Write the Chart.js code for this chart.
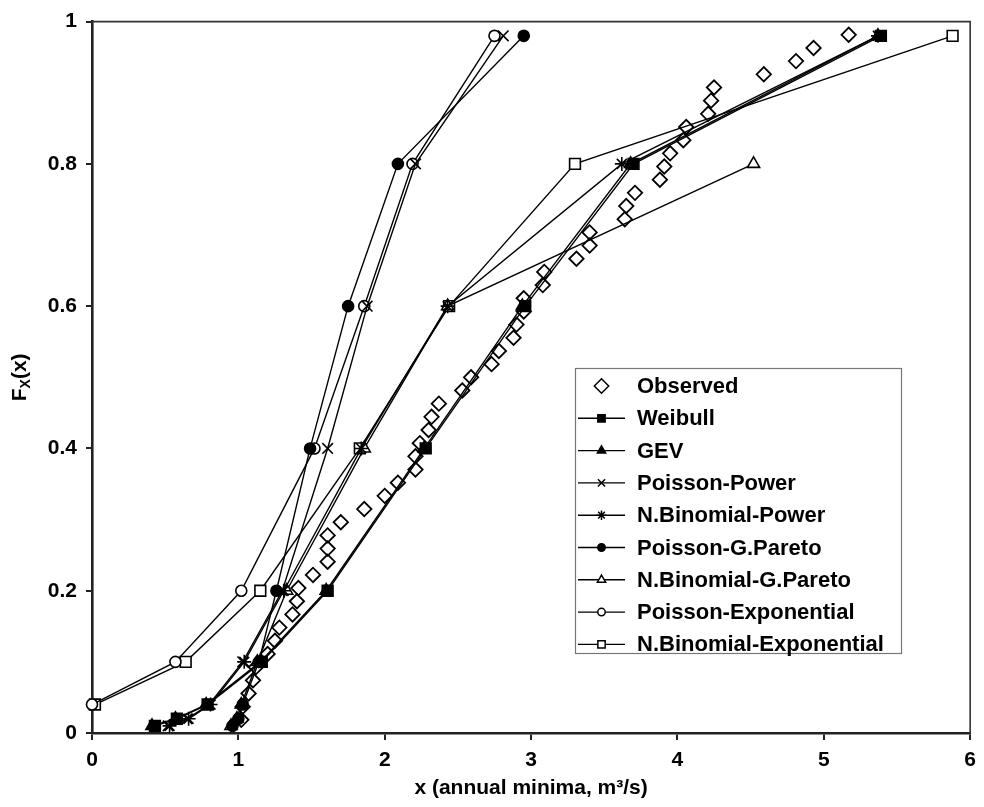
<!DOCTYPE html>
<html>
<head>
<meta charset="utf-8">
<script src="https://cdn.jsdelivr.net/npm/chart.js@4.4.0/dist/chart.umd.min.js"></script>
<style>
  body { margin: 0; background: #fff; }
</style>
</head>
<body>
<canvas id="cdf-chart" width="984" height="807"></canvas>
<script>
var FONT = "'Liberation Sans', Arial, sans-serif";

// probabilities of the fitted quantiles
var probs = [0.01, 0.02, 0.04, 0.1, 0.2, 0.4, 0.6, 0.8, 0.98];

// observed annual minima, plotted at i/(n+1)
var observed = [1.02, 1.03, 1.07, 1.10, 1.12, 1.20, 1.25, 1.28, 1.37, 1.40,
  1.41, 1.51, 1.61, 1.61, 1.61, 1.70, 1.86, 2.00, 2.09, 2.21,
  2.21, 2.24, 2.30, 2.32, 2.37, 2.53, 2.59, 2.73, 2.78, 2.88,
  2.90, 2.95, 2.95, 3.08, 3.09, 3.31, 3.40, 3.40, 3.64, 3.65,
  3.71, 3.88, 3.91, 3.95, 4.04, 4.06, 4.21, 4.23, 4.25, 4.59,
  4.81, 4.93, 5.17];

// fitted quantiles (x) at each prob
var weibull      = [0.43, 0.58, 0.79, 1.16, 1.61, 2.28, 2.96, 3.70, 5.39];
var gev          = [0.41, 0.57, 0.78, 1.15, 1.60, 2.27, 2.94, 3.68, 5.37];
var poissonPower = [0.52, 0.65, 0.80, 1.03, 1.30, 1.61, 1.88, 2.21, 2.81];
var nbPower      = [0.53, 0.66, 0.81, 1.04, 1.31, 1.84, 2.43, 3.62, 5.37];
var poissonGP    = [0.96, 1.00, 1.03, 1.14, 1.26, 1.49, 1.75, 2.09, 2.95];
var nbGP         = [0.95, 0.99, 1.02, 1.13, 1.33, 1.86, 2.43, 4.52, null];
var poissonExp   = [null, null, 0.00, 0.57, 1.02, 1.52, 1.86, 2.19, 2.75];
var nbExp        = [null, null, 0.02, 0.64, 1.15, 1.83, 2.44, 3.30, 5.88];

var xTicks = [0, 1, 2, 3, 4, 5, 6];
var yTicks = [0, 0.2, 0.4, 0.6, 0.8, 1];

function pts(xs) {
  var out = [];
  xs.forEach(function(v, i) { if (v !== null) out.push({ x: v, y: probs[i] }); });
  return out;
}

function fitted(label, xs, style, radius, fill) {
  return {
    label: label,
    data: pts(xs),
    borderColor: '#000',
    borderWidth: 1.4,
    pointStyle: style,
    pointRadius: radius,
    pointBorderWidth: 1.6,
    pointBorderColor: '#000',
    pointBackgroundColor: fill,
    showLine: true,
    fill: false,
    tension: 0,
    clip: false
  };
}

var obsData = observed.map(function(v, i) {
  return { x: v, y: (i + 1) / (observed.length + 1) };
});

var datasets = [
  {
    label: 'Observed',
    data: obsData,
    showLine: false,
    pointStyle: 'rectRot',
    pointRadius: 7.2,
    pointBorderWidth: 1.8,
    pointBorderColor: '#000',
    pointBackgroundColor: 'rgba(0,0,0,0)',
    clip: false
  },
  fitted('Weibull', weibull, 'rect', 7.6, '#000'),
  fitted('GEV', gev, 'triangle', 7, '#000'),
  fitted('Poisson-Power', poissonPower, 'crossRot', 7.5, '#000'),
  fitted('N.Binomial-Power', nbPower, 'star', 7, '#000'),
  fitted('Poisson-G.Pareto', poissonGP, 'circle', 5.5, '#000'),
  fitted('N.Binomial-G.Pareto', nbGP, 'triangle', 7, '#fff'),
  fitted('Poisson-Exponential', poissonExp, 'circle', 5.5, '#fff'),
  fitted('N.Binomial-Exponential', nbExp, 'rect', 7.6, '#fff')
];

// top/right frame of the plot
var frame = {
  id: 'frame',
  beforeDatasetsDraw: function(chart) {
    var a = chart.chartArea, ctx = chart.ctx;
    ctx.save();
    ctx.strokeStyle = '#333';
    ctx.lineWidth = 1.6;
    ctx.beginPath();
    ctx.moveTo(a.left, a.top);
    ctx.lineTo(a.right, a.top);
    ctx.lineTo(a.right, a.bottom);
    ctx.stroke();
    ctx.restore();
  }
};

// legend box inside the plot
var boxLegend = {
  id: 'boxLegend',
  afterDatasetsDraw: function(chart) {
    var ctx = chart.ctx;
    var left = 575, top = 368, w = 326, h = 285;
    ctx.save();
    ctx.fillStyle = '#fff';
    ctx.fillRect(left, top, w, h);
    ctx.strokeStyle = '#777';
    ctx.lineWidth = 1.2;
    ctx.strokeRect(left + 0.5, top + 0.5, w, h);
    chart.data.datasets.forEach(function(ds, i) {
      var y = 386 + i * 32.3;
      ctx.strokeStyle = '#000';
      ctx.lineWidth = 1.4;
      if (ds.showLine) {
        ctx.beginPath();
        ctx.moveTo(578, y);
        ctx.lineTo(625, y);
        ctx.stroke();
      }
      ctx.fillStyle = ds.pointBackgroundColor;
      ctx.lineWidth = 1.5;
      Chart.helpers.drawPoint(ctx, {
        pointStyle: ds.pointStyle,
        radius: ds.showLine ? ds.pointRadius * 0.68 : ds.pointRadius,
        borderWidth: 1.5,
        rotation: 0
      }, 601.5, y);
      ctx.fillStyle = '#000';
      ctx.font = 'bold 22px ' + FONT;
      ctx.textBaseline = 'middle';
      ctx.textAlign = 'left';
      ctx.fillText(ds.label, 637, y + 1);
    });
    ctx.restore();
  }
};

// y axis title with subscript
var yTitle = {
  id: 'yTitle',
  afterDraw: function(chart) {
    var ctx = chart.ctx;
    var big = 'bold 21px ' + FONT, small = 'bold 14px ' + FONT;
    ctx.save();
    ctx.translate(18, (chart.chartArea.top + chart.chartArea.bottom) / 2);
    ctx.rotate(-Math.PI / 2);
    ctx.fillStyle = '#000';
    ctx.textBaseline = 'alphabetic';
    ctx.textAlign = 'left';
    ctx.font = big; var wF = ctx.measureText('F').width;
    ctx.font = small; var wX = ctx.measureText('X').width;
    ctx.font = big; var wP = ctx.measureText('(x)').width;
    var x0 = -(wF + wX + wP) / 2;
    ctx.font = big; ctx.fillText('F', x0, 7.5);
    ctx.font = small; ctx.fillText('X', x0 + wF, 11.5);
    ctx.font = big; ctx.fillText('(x)', x0 + wF + wX, 7.5);
    ctx.restore();
  }
};

new Chart(document.getElementById('cdf-chart'), {
  type: 'scatter',
  data: { datasets: datasets },
  plugins: [frame, boxLegend, yTitle],
  options: {
    responsive: false,
    animation: false,
    layout: { padding: { top: 15, right: 12, left: 0, bottom: 0 } },
    plugins: {
      legend: { display: false },
      tooltip: { enabled: false },
      title: { display: false }
    },
    scales: {
      x: {
        type: 'linear',
        min: xTicks[0],
        max: xTicks[xTicks.length - 1],
        afterFit: function(scale) { scale.height = 74; },
        afterBuildTicks: function(scale) {
          scale.ticks = xTicks.map(function(v) { return { value: v }; });
        },
        ticks: {
          color: '#000',
          padding: 8,
          font: { family: FONT, size: 21, weight: 'bold' }
        },
        grid: { drawOnChartArea: false, drawTicks: true, tickLength: 7, color: '#222', lineWidth: 2 },
        border: { display: true, color: '#222', width: 2.6 },
        title: {
          display: true,
          text: 'x (annual minima, m³/s)',
          color: '#000',
          padding: { top: 0, bottom: 6 },
          font: { family: FONT, size: 21, weight: 'bold' }
        }
      },
      y: {
        type: 'linear',
        min: yTicks[0],
        max: yTicks[yTicks.length - 1],
        afterFit: function(scale) { scale.width = 92; },
        afterBuildTicks: function(scale) {
          scale.ticks = yTicks.map(function(v) { return { value: v }; });
        },
        ticks: {
          color: '#000',
          padding: 9,
          font: { family: FONT, size: 21, weight: 'bold' },
          callback: function(v) { return String(+v.toFixed(1)); }
        },
        grid: { drawOnChartArea: false, drawTicks: true, tickLength: 6, color: '#222', lineWidth: 2 },
        border: { display: true, color: '#222', width: 2.6 }
      }
    }
  }
});
</script>
</body>
</html>
